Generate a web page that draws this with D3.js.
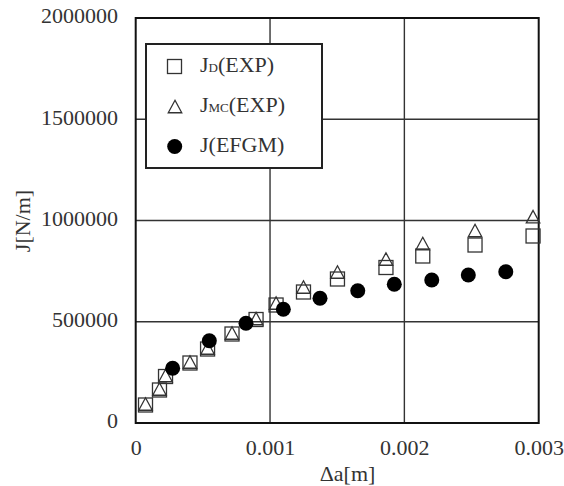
<!DOCTYPE html>
<html><head><meta charset="utf-8">
<script src="https://cdn.jsdelivr.net/npm/d3@7/dist/d3.min.js"></script>
<style>body{margin:0;background:#fff}svg{display:block}</style>
</head><body><svg id="c" width="564" height="486"></svg>
<script>
// Data
const jdX = [0.000073,0.000177,0.000222,0.000404,0.000535,0.000717,0.000896,0.001045,0.001249,0.001502,0.001863,0.002137,0.002526,0.002958];
const jdY = [88900,163000,229600,296300,365400,439500,511100,582700,646900,711100,767900,824700,879000,923500];
const jmcX = [0.000073,0.000177,0.000222,0.000404,0.000535,0.000717,0.000896,0.001045,0.001249,0.001502,0.001863,0.002137,0.002526,0.002958];
const jmcY = [93800,167900,234600,301200,370400,444400,516000,592600,671600,745700,809900,886400,950600,1018800];
const efgmX = [0.000275,0.000548,0.000821,0.001099,0.001372,0.001653,0.001925,0.002204,0.002476,0.002755];
const efgmY = [270100,406400,492300,561500,615800,653300,685000,706200,730900,747200];
const xTicks = [0,0.001,0.002,0.003];
const xTickLabels = ["0","0.001","0.002","0.003"];
const yTicks = [0,500000,1000000,1500000,2000000];
const yTickLabels = ["0","500000","1000000","1500000","2000000"];
const legendLabels = [["J","D","(EXP)"],["J","MC","(EXP)"],["J","","(EFGM)"]];

const font = "'Liberation Serif','Times New Roman',serif";
const fs = 22, tc = "#333";
const svg = d3.select("#c");
const L = 135.7, R = 538.7, T = 18, B = 423;
const x = d3.scaleLinear().domain([0,0.003]).range([L,R]);
const y = d3.scaleLinear().domain([0,2000000]).range([B,T]);

// grid
const g = svg.append("g");
g.selectAll("line.gx").data(xTicks.slice(1,-1)).join("line")
  .attr("x1",d=>x(d)).attr("x2",d=>x(d)).attr("y1",T).attr("y2",B)
  .attr("stroke","#333").attr("stroke-width",1.4);
g.selectAll("line.gy").data(yTicks.slice(1,-1)).join("line")
  .attr("y1",d=>y(d)).attr("y2",d=>y(d)).attr("x1",L).attr("x2",R)
  .attr("stroke","#333").attr("stroke-width",1.4);

// axes
const xa = svg.append("g").attr("transform",`translate(0,${B})`)
  .call(d3.axisBottom(x).tickValues(xTicks).tickSize(0).tickPadding(17)
    .tickFormat((d,i)=>xTickLabels[i]));
const ya = svg.append("g").attr("transform",`translate(${L},0)`)
  .call(d3.axisLeft(y).tickValues(yTicks).tickSize(0).tickPadding(17.7)
    .tickFormat((d,i)=>yTickLabels[i]));
[xa,ya].forEach(a=>{a.select(".domain").remove();
  a.attr("font-family",font).attr("font-size",fs);
  a.selectAll("text").attr("font-family",font).attr("font-size",fs).attr("fill",tc);});
xa.selectAll("text").attr("dy",null).attr("y",32);
ya.selectAll("text").attr("dy",null).attr("y",4.8);

// frame
svg.append("rect").attr("x",L).attr("y",T).attr("width",R-L).attr("height",B-T)
  .attr("fill","none").attr("stroke","#111").attr("stroke-width",2);

// axis titles
svg.append("text").attr("x",347.5).attr("y",481).attr("text-anchor","middle")
  .attr("font-family",font).attr("font-size",fs).attr("fill",tc).text("Δa[m]");
svg.append("text").attr("transform","translate(30,221) rotate(-90)").attr("text-anchor","middle")
  .attr("font-family",font).attr("font-size",fs).attr("fill",tc).text("J[N/m]");

// markers
const sq = 14, tw = 13.5, th = 12.5, cr = 7.5;
const triPath = `M0,${-th/2}L${tw/2},${th/2}L${-tw/2},${th/2}Z`;
const mk = svg.append("g");
mk.selectAll("rect.jd").data(jdX.map((v,i)=>[v,jdY[i]])).join("rect")
  .attr("x",d=>x(d[0])-sq/2).attr("y",d=>y(d[1])-sq/2).attr("width",sq).attr("height",sq)
  .attr("fill","none").attr("stroke","#333").attr("stroke-width",1.3);
mk.selectAll("path.jmc").data(jmcX.map((v,i)=>[v,jmcY[i]])).join("path")
  .attr("d",triPath).attr("transform",d=>`translate(${x(d[0])},${y(d[1])})`)
  .attr("fill","none").attr("stroke","#333").attr("stroke-width",1.3);
mk.selectAll("circle.ef").data(efgmX.map((v,i)=>[v,efgmY[i]])).join("circle")
  .attr("cx",d=>x(d[0])).attr("cy",d=>y(d[1])).attr("r",cr).attr("fill","#000");

// legend
const lg = svg.append("g");
lg.append("rect").attr("x",146).attr("y",44).attr("width",176).attr("height",124)
  .attr("fill","#fff").attr("stroke","#222").attr("stroke-width",2);
const ly = [66.5,106.5,146.5];
lg.append("rect").attr("x",174.5-sq/2).attr("y",ly[0]-sq/2).attr("width",sq).attr("height",sq)
  .attr("fill","none").attr("stroke","#333").attr("stroke-width",1.3);
lg.append("path").attr("d",triPath).attr("transform",`translate(175,${ly[1]})`)
  .attr("fill","none").attr("stroke","#333").attr("stroke-width",1.3);
lg.append("circle").attr("cx",174.7).attr("cy",ly[2]).attr("r",cr).attr("fill","#000");
legendLabels.forEach((lab,i)=>{
  const t = lg.append("text").attr("x",200).attr("y",ly[i]+5.5)
    .attr("font-family",font).attr("font-size",fs).attr("fill",tc);
  t.append("tspan").text(lab[0]);
  if (lab[1]) t.append("tspan").attr("font-size",13).text(lab[1]);
  t.append("tspan").text(lab[2]);
});
</script></body></html>
